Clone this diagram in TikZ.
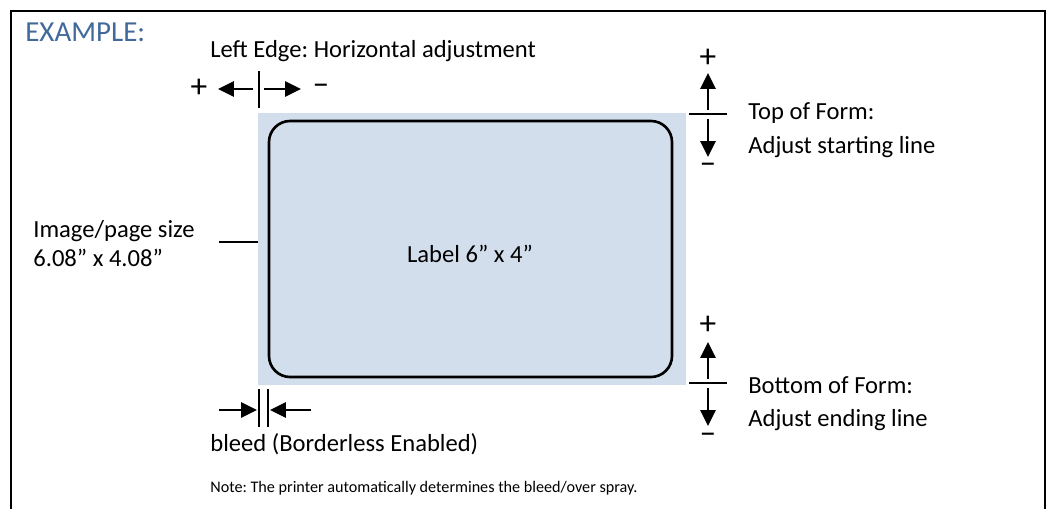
\documentclass[tikz,border=0pt]{standalone}
\usepackage{fontspec}
\setmainfont{Carlito}
\frenchspacing
\usetikzlibrary{arrows.meta}
\definecolor{exblue}{HTML}{41699A}
\definecolor{bleedfill}{HTML}{D3DEED}
\tikzset{
  txt/.style={anchor=base west, inner sep=0pt, font=\fontsize{14}{16}\selectfont},
  sign/.style={inner sep=0pt, font=\fontsize{19}{21}\selectfont},
  arr/.style={line width=1.6pt, -{Triangle[length=9pt,width=8.5pt]}},
  tick/.style={line width=1.1pt},
}
\begin{document}
\begin{tikzpicture}[x=0.02cm,y=-0.02cm]
\useasboundingbox (0,0) rectangle (1047,508);
% frame
\draw[line width=1.2pt] (11,520) -- (11,11) -- (1045,11) -- (1045,520);
\node[anchor=base west, inner sep=0pt, font=\fontsize{16.5}{18}\selectfont, text=exblue] (ex) at (25,41) {EXAMPLE:};
% bleed area and label
\fill[bleedfill] (258,113) rectangle (686,385);
\node[draw, line width=1.5pt, rounded corners=12pt, minimum width=403*0.02cm, minimum height=256*0.02cm, inner sep=0pt] (label) at (470.5,249) {};
\node[txt, anchor=base] (labtxt) at (470,262) {Label 6” x 4”};
% left edge
\node[txt] (le) at (210,57) {Left Edge: Horizontal adjustment};
\coordinate (lt) at (259,71); \coordinate (lb) at (259,108);
\draw[tick] (lt) -- (lb);
\coordinate (la0) at (253,89); \coordinate (la1) at (218,89);
\coordinate (ra0) at (264,89); \coordinate (ra1) at (301,89);
\draw[arr] (la0) -- (la1);
\draw[arr] (ra0) -- (ra1);
\node[sign] (lplus) at (199,88) {+};
\node[sign] (lminus) at (321,89) {–};
% image/page size
\node[txt] (img1) at (33,237) {Image/page size};
\node[txt] (img2) at (33,266) {6.08” x 4.08”};
\coordinate (il0) at (219,242); \coordinate (il1) at (258,242);
\draw[tick] (il0) -- (il1);
% top of form
\coordinate (tl0) at (689,114); \coordinate (tl1) at (727,114);
\draw[tick] (tl0) -- (tl1);
\coordinate (tu0) at (708,110); \coordinate (tu1) at (708,73);
\coordinate (td0) at (708,119); \coordinate (td1) at (708,157);
\draw[arr] (tu0) -- (tu1);
\draw[arr] (td0) -- (td1);
\node[sign] (tplus) at (708,58) {+};
\node[sign] (tminus) at (708,168) {–};
\node[txt] (tof1) at (748,119) {Top of Form:};
\node[txt] (tof2) at (748,153) {Adjust starting line};
% bottom of form
\coordinate (bl0) at (689,383); \coordinate (bl1) at (727,383);
\draw[tick] (bl0) -- (bl1);
\coordinate (bu0) at (708,379); \coordinate (bu1) at (708,342);
\coordinate (bd0) at (708,388); \coordinate (bd1) at (708,426);
\draw[arr] (bu0) -- (bu1);
\draw[arr] (bd0) -- (bd1);
\node[sign] (bplus) at (708,325) {+};
\node[sign] (bminus) at (708,438) {–};
\node[txt] (bof1) at (748,393) {Bottom of Form:};
\node[txt] (bof2) at (748,426) {Adjust ending line};
% bleed
\coordinate (v1t) at (259,389); \coordinate (v1b) at (259,427);
\coordinate (v2t) at (268,389); \coordinate (v2b) at (268,427);
\draw[tick] (v1t) -- (v1b);
\draw[tick] (v2t) -- (v2b);
\coordinate (ba0) at (219,410); \coordinate (ba1) at (257,410);
\coordinate (bb0) at (311,410); \coordinate (bb1) at (270,410);
\draw[arr] (ba0) -- (ba1);
\draw[arr] (bb0) -- (bb1);
\node[txt] (bleed) at (210,451) {bleed (Borderless Enabled)};
\node[anchor=base west, inner sep=0pt, font=\fontsize{9.2}{11}\selectfont] (note) at (210,492) {Note: The printer automatically determines the bleed/over spray.};
\end{tikzpicture}
\end{document}
